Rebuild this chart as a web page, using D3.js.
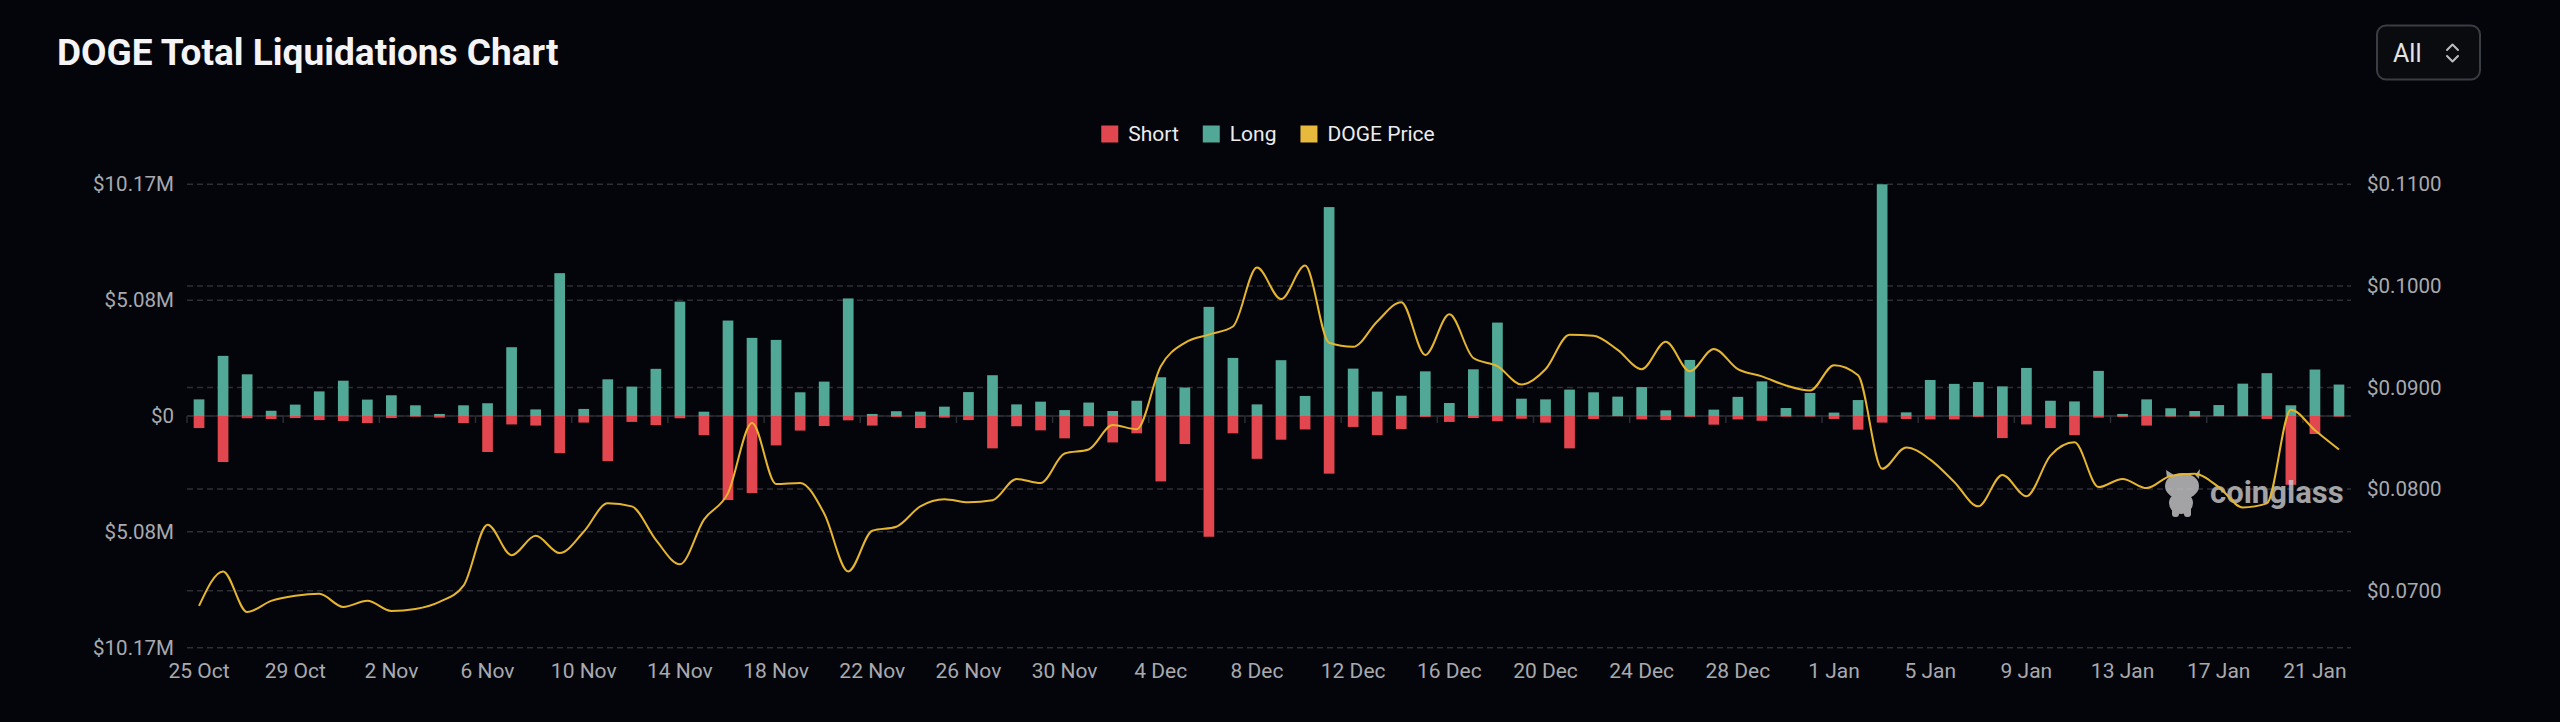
<!DOCTYPE html>
<html>
<head>
<meta charset="utf-8">
<script src="https://cdn.jsdelivr.net/npm/d3@7/dist/d3.min.js"></script>
<style>
  html, body { margin: 0; padding: 0; background: #04050a; }
  svg { display: block; }
</style>
</head>
<body>
<svg id="chart" width="2560" height="722"></svg>
<script>
// daily categories, 25 Oct -> 22 Jan
const dates = [
  "25 Oct","26 Oct","27 Oct","28 Oct","29 Oct","30 Oct","31 Oct",
  "1 Nov","2 Nov","3 Nov","4 Nov","5 Nov","6 Nov","7 Nov","8 Nov","9 Nov","10 Nov",
  "11 Nov","12 Nov","13 Nov","14 Nov","15 Nov","16 Nov","17 Nov","18 Nov","19 Nov","20 Nov",
  "21 Nov","22 Nov","23 Nov","24 Nov","25 Nov","26 Nov","27 Nov","28 Nov","29 Nov","30 Nov",
  "1 Dec","2 Dec","3 Dec","4 Dec","5 Dec","6 Dec","7 Dec","8 Dec","9 Dec","10 Dec",
  "11 Dec","12 Dec","13 Dec","14 Dec","15 Dec","16 Dec","17 Dec","18 Dec","19 Dec","20 Dec",
  "21 Dec","22 Dec","23 Dec","24 Dec","25 Dec","26 Dec","27 Dec","28 Dec","29 Dec","30 Dec","31 Dec",
  "1 Jan","2 Jan","3 Jan","4 Jan","5 Jan","6 Jan","7 Jan","8 Jan","9 Jan","10 Jan",
  "11 Jan","12 Jan","13 Jan","14 Jan","15 Jan","16 Jan","17 Jan","18 Jan","19 Jan","20 Jan",
  "21 Jan","22 Jan"
];

// long liquidations, $M
const longs = [
  0.73, 2.64, 1.83, 0.23, 0.50, 1.08, 1.55, 0.72, 0.91, 0.47, 0.09, 0.47, 0.56, 3.02, 0.29, 6.27, 0.31, 1.61,
  1.29, 2.07, 5.02, 0.19, 4.19, 3.43, 3.34, 1.04, 1.51, 5.16, 0.09, 0.21, 0.19, 0.41, 1.05, 1.79, 0.51, 0.63,
  0.26, 0.59, 0.22, 0.67, 1.70, 1.25, 4.79, 2.55, 0.51, 2.45, 0.88, 9.17, 2.08, 1.07, 0.89, 1.96, 0.57, 2.05,
  4.10, 0.76, 0.73, 1.16, 1.04, 0.85, 1.27, 0.25, 2.46, 0.28, 0.84, 1.52, 0.35, 1.01, 0.15, 0.70, 10.17, 0.16,
  1.58, 1.41, 1.49, 1.30, 2.11, 0.67, 0.64, 1.98, 0.09, 0.73, 0.34, 0.22, 0.48, 1.42, 1.88, 0.47, 2.04, 1.38
];

// short liquidations, $M (drawn below zero)
const shorts = [
  0.53, 2.02, 0.10, 0.13, 0.09, 0.18, 0.22, 0.31, 0.09, 0.03, 0.07, 0.31, 1.58, 0.37, 0.42, 1.63, 0.29, 1.98,
  0.26, 0.40, 0.10, 0.84, 3.69, 3.38, 1.29, 0.64, 0.44, 0.19, 0.42, 0.04, 0.53, 0.07, 0.18, 1.42, 0.45, 0.63,
  0.98, 0.45, 1.16, 0.76, 2.87, 1.23, 5.30, 0.76, 1.88, 1.04, 0.59, 2.53, 0.48, 0.84, 0.57, 0.04, 0.26, 0.09,
  0.23, 0.12, 0.29, 1.42, 0.13, 0.01, 0.15, 0.18, 0.04, 0.38, 0.15, 0.21, 0.03, 0.03, 0.13, 0.60, 0.29, 0.13,
  0.15, 0.15, 0.04, 0.97, 0.37, 0.53, 0.84, 0.07, 0.04, 0.42, 0.03, 0.03, 0.01, 0.01, 0.13, 3.02, 0.79, 0.03
];

// DOGE price, $
const prices = [
  0.0685, 0.0719, 0.0679, 0.0690, 0.0695, 0.0697, 0.0684, 0.0690, 0.0680, 0.0682, 0.0689, 0.0705, 0.0765, 0.0735, 0.0754, 0.0737, 0.0758, 0.0786,
  0.0783, 0.0750, 0.0726, 0.0770, 0.0796, 0.0865, 0.0805, 0.0806, 0.0776, 0.0719, 0.0759, 0.0763, 0.0783, 0.0790, 0.0787, 0.0789, 0.0810, 0.0806,
  0.0835, 0.0839, 0.0863, 0.0859, 0.0921, 0.0944, 0.0952, 0.0960, 0.1018, 0.0987, 0.1020, 0.0944, 0.0940, 0.0965, 0.0984, 0.0932, 0.0972, 0.0929,
  0.0921, 0.0903, 0.0918, 0.0952, 0.0951, 0.0937, 0.0918, 0.0945, 0.0916, 0.0938, 0.0918, 0.0911, 0.0902, 0.0897, 0.0922, 0.0912, 0.0820, 0.0841,
  0.0829, 0.0807, 0.0783, 0.0814, 0.0793, 0.0833, 0.0846, 0.0802, 0.0810, 0.0801, 0.0813, 0.0815, 0.0802, 0.0782, 0.0786, 0.0878, 0.0858, 0.0839
];

const leftTicks = [10.17, 5.08, 0, -5.08, -10.17];
const leftTickLabels = ["$10.17M", "$5.08M", "$0", "$5.08M", "$10.17M"];
const rightTicks = [0.11, 0.10, 0.09, 0.08, 0.07];
const legendItems = ["Short", "Long", "DOGE Price"];

const colShort = "#e2464f";
const colLong = "#52a896";
const colPrice = "#e6b52f";
const colGrid = "#2c2f35";
const colLabel = "#a8aaaf";
const font = "Roboto, 'Noto Sans', sans-serif";

const svg = d3.select("#chart");
svg.append("rect").attr("width", 2560).attr("height", 722).attr("fill", "#04050a");

// plot area
const plotL = 187, plotR = 2351, plotT = 184.3, plotB = 647.7;

const x = d3.scaleBand().domain(dates).range([plotL, plotR]);
const yL = d3.scaleLinear().domain([-10.17, 10.17]).range([plotB, plotT]);
const yR = d3.scaleLinear().domain([0.06439, 0.11]).range([plotB, plotT]);

// title
svg.append("text")
  .attr("x", 57).attr("y", 65)
  .attr("font-family", font).attr("font-weight", 700).attr("font-size", 37)
  .attr("fill", "#f4f4f6")
  .text("DOGE Total Liquidations Chart");

// range selector
const sel = svg.append("g");
sel.append("rect")
  .attr("x", 2377).attr("y", 25.5).attr("width", 103).attr("height", 54).attr("rx", 9)
  .attr("fill", "#0a0b0f").attr("stroke", "#3a3d43").attr("stroke-width", 2);
sel.append("text")
  .attr("x", 2393).attr("y", 61.5)
  .attr("font-family", font).attr("font-size", 25).attr("fill", "#e4e4e6")
  .text("All");
sel.append("path")
  .attr("d", "M2447,50 L2452.5,44.5 L2458,50 M2447,56 L2452.5,61.5 L2458,56")
  .attr("fill", "none").attr("stroke", "#bdbdc0").attr("stroke-width", 2)
  .attr("stroke-linecap", "round").attr("stroke-linejoin", "round");

// gridlines (both axes)
const grid = svg.append("g");
leftTicks.forEach(v => {
  grid.append("line")
    .attr("x1", plotL).attr("x2", plotR).attr("y1", yL(v)).attr("y2", yL(v))
    .attr("stroke", colGrid).attr("stroke-width", 1.5).attr("stroke-dasharray", "6,4");
});
rightTicks.forEach(v => {
  if (Math.abs(v - 0.11) < 1e-9) return; // same line as the top one
  grid.append("line")
    .attr("x1", plotL).attr("x2", plotR).attr("y1", yR(v)).attr("y2", yR(v))
    .attr("stroke", colGrid).attr("stroke-width", 1.5).attr("stroke-dasharray", "6,4");
});

// left axis
const axL = svg.append("g")
  .attr("transform", `translate(${plotL},0)`)
  .call(d3.axisLeft(yL).tickValues(leftTicks).tickSize(0).tickPadding(13)
    .tickFormat((d, i) => leftTickLabels[i]));
axL.select(".domain").remove();
axL.selectAll("text").attr("font-family", font).attr("font-size", 20.5).attr("fill", colLabel);

// right axis
const axR = svg.append("g")
  .attr("transform", `translate(${plotR},0)`)
  .call(d3.axisRight(yR).tickValues(rightTicks).tickSize(0).tickPadding(16)
    .tickFormat(d => "$" + d.toFixed(4)));
axR.select(".domain").remove();
axR.selectAll("text").attr("font-family", font).attr("font-size", 20.5).attr("fill", colLabel);

// x axis sits on zero
const zeroY = yL(0);
const labelDates = dates.filter((d, i) => i % 4 === 0);
svg.append("line")
  .attr("x1", plotL).attr("x2", plotR).attr("y1", zeroY).attr("y2", zeroY)
  .attr("stroke", "#2a2d33").attr("stroke-width", 1.5);
svg.append("g").selectAll("line")
  .data(labelDates)
  .join("line")
  .attr("x1", d => x(d)).attr("x2", d => x(d))
  .attr("y1", zeroY).attr("y2", zeroY + 7)
  .attr("stroke", "#2a2d33").attr("stroke-width", 1.5);
svg.append("g").selectAll("text")
  .data(labelDates)
  .join("text")
  .attr("x", d => x(d) + x.bandwidth() / 2)
  .attr("y", 678)
  .attr("text-anchor", "middle")
  .attr("font-family", font).attr("font-size", 21).attr("fill", colLabel)
  .text(d => d);

// bars
const bw = x.bandwidth() * 0.445;
svg.append("g").selectAll("rect")
  .data(dates)
  .join("rect")
  .attr("x", d => x(d) + (x.bandwidth() - bw) / 2)
  .attr("width", bw)
  .attr("y", (d, i) => yL(longs[i]))
  .attr("height", (d, i) => yL(0) - yL(longs[i]))
  .attr("fill", colLong);
svg.append("g").selectAll("rect")
  .data(dates)
  .join("rect")
  .attr("x", d => x(d) + (x.bandwidth() - bw) / 2)
  .attr("width", bw)
  .attr("y", yL(0))
  .attr("height", (d, i) => yL(-shorts[i]) - yL(0))
  .attr("fill", colShort);

// watermark
const wm = svg.append("g").attr("opacity", 0.82).attr("fill", "#c6c6c8");
wm.append("ellipse").attr("cx", 2182).attr("cy", 486).attr("rx", 17).attr("ry", 13);
wm.append("path").attr("d", "M2167,478 L2166,470 L2174,475 Z M2195,475 L2200,469 L2199,479 Z");
wm.append("ellipse").attr("cx", 2181).attr("cy", 503).attr("rx", 12).attr("ry", 11);
wm.append("rect").attr("x", 2172).attr("y", 506).attr("width", 7).attr("height", 11).attr("rx", 3);
wm.append("rect").attr("x", 2184).attr("y", 506).attr("width", 7).attr("height", 11).attr("rx", 3);
wm.append("text")
  .attr("x", 2210).attr("y", 503)
  .attr("font-family", font).attr("font-weight", 700).attr("font-size", 31)
  .text("coinglass");

// price line
const line = d3.line()
  .x((d, i) => x(dates[i]) + x.bandwidth() / 2)
  .y(d => yR(d))
  .curve(d3.curveMonotoneX);
svg.append("path")
  .datum(prices)
  .attr("d", line)
  .attr("fill", "none")
  .attr("stroke", colPrice)
  .attr("stroke-width", 2);

// legend, centred above plot
const legend = svg.append("g");
const legendColors = [colShort, colLong, "#e7b93c"];
let lx = 0;
legendItems.forEach((name, i) => {
  const g = legend.append("g").attr("transform", `translate(${lx},0)`);
  g.append("rect").attr("x", 0).attr("y", -8.5).attr("width", 17).attr("height", 17)
    .attr("fill", legendColors[i]);
  const t = g.append("text")
    .attr("x", 27).attr("y", 0).attr("dy", "0.35em")
    .attr("font-family", font).attr("font-size", 21).attr("fill", "#ececee")
    .text(name);
  lx += 27 + t.node().getComputedTextLength() + 24;
});
const lw = lx - 24;
legend.attr("transform", `translate(${1268 - lw / 2},134)`);
</script>
</body>
</html>
